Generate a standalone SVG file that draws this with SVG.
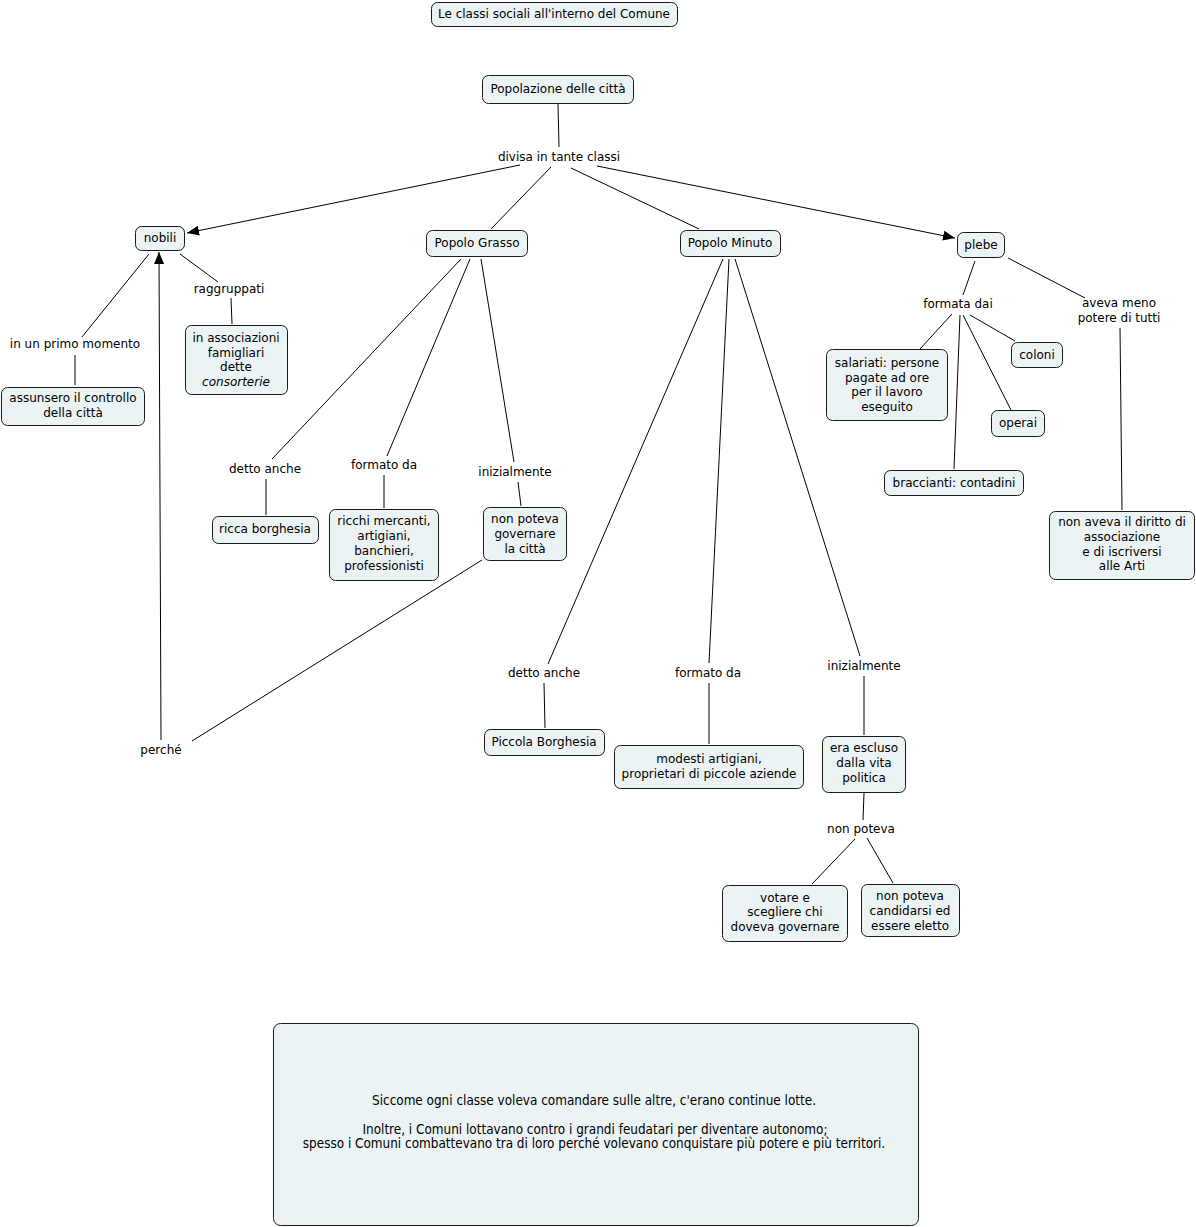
<svg xmlns="http://www.w3.org/2000/svg" width="1196" height="1227" viewBox="0 0 1196 1227">
<style>
.n rect{fill:#ecf3f5;stroke:#1a1a1a;stroke-width:1}
text{font-family:"DejaVu Sans",Verdana,sans-serif;font-size:12px;fill:#000;text-anchor:middle}
.c line{stroke:#000;stroke-width:1}
.b text{font-family:"DejaVu Sans Condensed","DejaVu Sans",sans-serif;font-size:13.4px}
</style>
<defs>
<marker id="ah" viewBox="0 0 12 10" refX="12" refY="5" markerWidth="12" markerHeight="10" markerUnits="userSpaceOnUse" orient="auto">
<path d="M0,0 L12,5 L0,10 Z" fill="#000"/>
</marker>
</defs>
<rect width="1196" height="1227" fill="#fff"/>

<g class="c" id="connectors">
<line x1="558" y1="104" x2="559" y2="147"/>
<line x1="520" y1="165" x2="187" y2="233" marker-end="url(#ah)"/>
<line x1="551" y1="167" x2="491" y2="229"/>
<line x1="571" y1="168" x2="699" y2="229"/>
<line x1="597" y1="166" x2="955" y2="238" marker-end="url(#ah)"/>
<line x1="149" y1="254" x2="82" y2="337"/>
<line x1="75" y1="355" x2="75" y2="385"/>
<line x1="180" y1="254" x2="218" y2="282"/>
<line x1="231" y1="298" x2="232" y2="324"/>
<line x1="461" y1="259" x2="272" y2="459"/>
<line x1="266" y1="479" x2="266" y2="515"/>
<line x1="470" y1="259" x2="387" y2="456"/>
<line x1="384" y1="475" x2="384" y2="508"/>
<line x1="481" y1="259" x2="514" y2="462"/>
<line x1="518" y1="482" x2="521" y2="506"/>
<line x1="482" y1="560" x2="192" y2="741"/>
<line x1="161" y1="740" x2="159" y2="252" marker-end="url(#ah)"/>
<line x1="723" y1="259" x2="548" y2="664"/>
<line x1="544" y1="683" x2="545" y2="728"/>
<line x1="729" y1="259" x2="709" y2="663"/>
<line x1="709" y1="683" x2="709" y2="744"/>
<line x1="735" y1="259" x2="860" y2="656"/>
<line x1="864" y1="676" x2="864" y2="735"/>
<line x1="864" y1="793" x2="863" y2="820"/>
<line x1="855" y1="839" x2="812" y2="884"/>
<line x1="867" y1="838" x2="893" y2="883"/>
<line x1="975" y1="261" x2="963" y2="295"/>
<line x1="952" y1="314" x2="920" y2="349"/>
<line x1="970" y1="315" x2="1015" y2="341"/>
<line x1="963" y1="315" x2="1011" y2="410"/>
<line x1="960" y1="315" x2="954" y2="469"/>
<line x1="1008" y1="258" x2="1085" y2="298"/>
<line x1="1120" y1="328" x2="1122" y2="510"/>
</g>

<g id="labels">
<text x="559" y="161">divisa in tante classi</text>
<text x="75" y="348">in un primo momento</text>
<text x="229" y="293">raggruppati</text>
<text x="265" y="473">detto anche</text>
<text x="384" y="469">formato da</text>
<text x="515" y="476">inizialmente</text>
<text x="161" y="754">perché</text>
<text x="544" y="677">detto anche</text>
<text x="708" y="677">formato da</text>
<text x="864" y="670">inizialmente</text>
<text x="861" y="833">non poteva</text>
<text x="958" y="308">formata dai</text>
<text x="1119" y="307">aveva meno</text>
<text x="1119" y="322">potere di tutti</text>
</g>

<g class="n" id="n-title"><rect x="431.5" y="2.5" width="246" height="24" rx="6"/><text x="554" y="18">Le classi sociali all'interno del Comune</text></g>
<g class="n" id="n-popolazione"><rect x="482.5" y="75.5" width="151" height="28" rx="6"/><text x="558" y="93">Popolazione delle città</text></g>
<g class="n" id="n-nobili"><rect x="135.5" y="226.5" width="49" height="24" rx="6"/><text x="160" y="242">nobili</text></g>
<g class="n" id="n-grasso"><rect x="426.5" y="230.5" width="101" height="26" rx="6"/><text x="477" y="247">Popolo Grasso</text></g>
<g class="n" id="n-minuto"><rect x="680.5" y="230.5" width="100" height="26" rx="6"/><text x="730" y="247">Popolo Minuto</text></g>
<g class="n" id="n-plebe"><rect x="957.5" y="232.5" width="47" height="25" rx="6"/><text x="981" y="249">plebe</text></g>
<g class="n" id="n-assunsero"><rect x="1.5" y="387.5" width="143" height="38" rx="6"/><text x="73" y="402">assunsero il controllo</text><text x="73" y="417">della città</text></g>
<g class="n" id="n-associazioni"><rect x="185.5" y="325.5" width="102" height="69" rx="6"/><text x="236" y="342">in associazioni</text><text x="236" y="357">famigliari</text><text x="236" y="371">dette</text><text x="236" y="386" font-style="italic">consorterie</text></g>
<g class="n" id="n-ricca"><rect x="212.5" y="516.5" width="106" height="27" rx="6"/><text x="265" y="533">ricca borghesia</text></g>
<g class="n" id="n-ricchi"><rect x="329.5" y="509.5" width="109" height="71" rx="6"/><text x="384" y="525">ricchi mercanti,</text><text x="384" y="540">artigiani,</text><text x="384" y="555">banchieri,</text><text x="384" y="570">professionisti</text></g>
<g class="n" id="n-nonpoteva"><rect x="483.5" y="507.5" width="83" height="53" rx="6"/><text x="525" y="523">non poteva</text><text x="525" y="538">governare</text><text x="525" y="553">la città</text></g>
<g class="n" id="n-piccola"><rect x="484.5" y="729.5" width="120" height="26" rx="6"/><text x="544" y="746">Piccola Borghesia</text></g>
<g class="n" id="n-modesti"><rect x="614.5" y="745.5" width="189" height="43" rx="6"/><text x="709" y="763">modesti artigiani,</text><text x="709" y="778">proprietari di piccole aziende</text></g>
<g class="n" id="n-escluso"><rect x="822.5" y="736.5" width="83" height="56" rx="6"/><text x="864" y="752">era escluso</text><text x="864" y="767">dalla vita</text><text x="864" y="782">politica</text></g>
<g class="n" id="n-votare"><rect x="722.5" y="885.5" width="125" height="56" rx="6"/><text x="785" y="902">votare e</text><text x="785" y="916">scegliere chi</text><text x="785" y="931">doveva governare</text></g>
<g class="n" id="n-candidarsi"><rect x="861.5" y="884.5" width="98" height="52" rx="6"/><text x="910" y="900">non poteva</text><text x="910" y="915">candidarsi ed</text><text x="910" y="930">essere eletto</text></g>
<g class="n" id="n-salariati"><rect x="826.5" y="349.5" width="121" height="71" rx="6"/><text x="887" y="367">salariati: persone</text><text x="887" y="382">pagate ad ore</text><text x="887" y="396">per il lavoro</text><text x="887" y="411">eseguito</text></g>
<g class="n" id="n-coloni"><rect x="1011.5" y="342.5" width="51" height="25" rx="6"/><text x="1037" y="359">coloni</text></g>
<g class="n" id="n-operai"><rect x="991.5" y="410.5" width="53" height="26" rx="6"/><text x="1018" y="427">operai</text></g>
<g class="n" id="n-braccianti"><rect x="884.5" y="470.5" width="139" height="25" rx="6"/><text x="954" y="487">braccianti: contadini</text></g>
<g class="n" id="n-diritto"><rect x="1049.5" y="511.5" width="145" height="68" rx="6"/><text x="1122" y="526">non aveva il diritto di</text><text x="1122" y="541">associazione</text><text x="1122" y="556">e di iscriversi</text><text x="1122" y="570">alle Arti</text></g>
<g class="n b" id="n-nota"><rect x="273.5" y="1023.5" width="645" height="202" rx="7"/><text x="594" y="1105">Siccome ogni classe voleva comandare sulle altre, c'erano continue lotte.</text><text x="595" y="1134">Inoltre, i Comuni lottavano contro i grandi feudatari per diventare autonomo;</text><text x="594" y="1148">spesso i Comuni combattevano tra di loro perché volevano conquistare più potere e più territori.</text></g>
</svg>
